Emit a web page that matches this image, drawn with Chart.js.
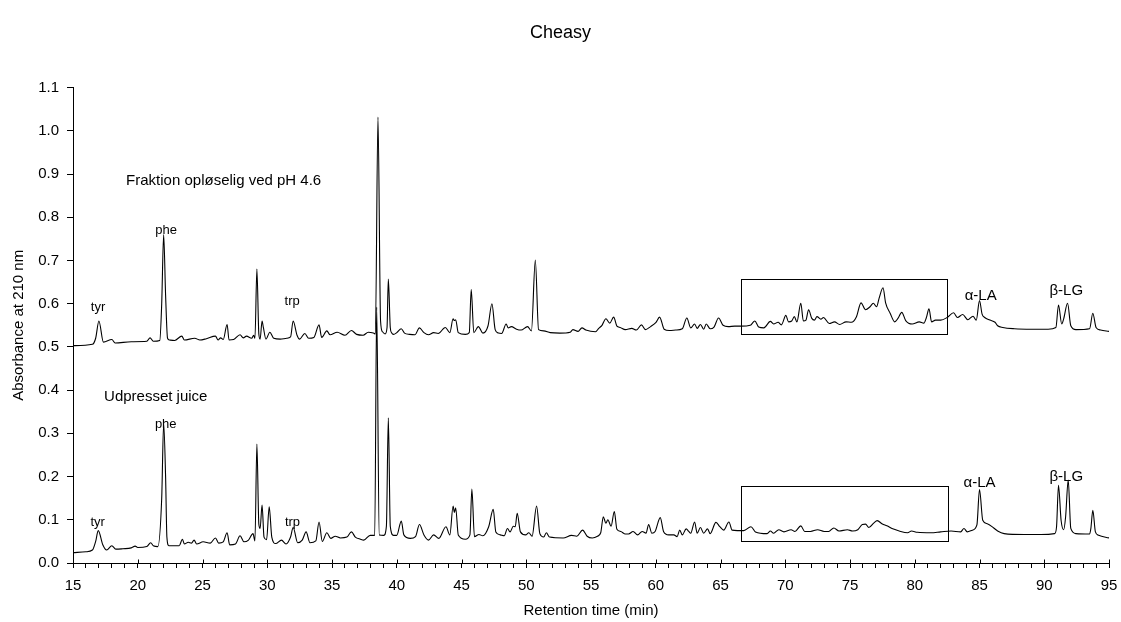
<!DOCTYPE html>
<html>
<head>
<meta charset="utf-8">
<script src="https://cdn.jsdelivr.net/npm/chart.js@4/dist/chart.umd.min.js"></script>
<style>
  body { margin: 0; background: #fff; }
  #wrap { width: 1121px; height: 622px; position: relative; }
</style>
</head>
<body>
<div id="wrap"><canvas id="chrom"></canvas></div>
<script>
// Fraktion opløselig ved pH 4.6 (øverste kurve)
const timeUpper = [15.0,16.5,16.75,17.0,17.35,18.0,18.25,19.5,20.7,20.95,21.2,21.7,21.85,22.0,22.15,22.3,22.45,22.85,23.4,23.6,24.4,24.8,25.3,26.0,26.2,26.4,26.6,26.9,27.05,27.4,27.9,28.15,28.4,28.8,28.95,29.05,29.2,29.35,29.45,29.6,29.7,29.9,30.2,30.5,31.0,31.5,31.8,32.0,32.3,32.5,32.9,33.2,33.6,34.0,34.2,34.6,34.85,35.4,36.0,36.5,36.9,37.4,37.8,38.2,38.35,38.55,38.75,38.9,39.1,39.25,39.35,39.5,39.6,39.75,40.0,40.35,40.6,41.0,41.4,41.75,42.1,42.45,42.85,43.2,43.75,44.1,44.35,44.45,44.55,44.75,45.3,45.6,45.75,45.95,46.3,46.65,47.05,47.35,47.6,47.85,48.1,48.45,48.6,48.85,49.25,49.6,50.1,50.4,50.7,50.95,51.35,51.85,52.6,53.4,53.6,54.0,54.3,54.6,55.35,55.6,55.85,56.15,56.45,56.75,57.0,57.25,57.65,58.15,58.5,58.9,59.2,59.6,60.0,60.3,60.65,61.05,61.55,62.05,62.4,62.7,63.0,63.2,63.45,63.7,63.9,64.2,64.5,64.85,65.2,65.6,66.1,66.6,67.3,67.65,67.95,68.35,68.85,69.1,69.45,69.7,70.05,70.25,70.5,70.7,70.9,71.2,71.4,71.6,71.8,72.05,72.25,72.45,72.75,72.95,73.4,73.8,74.2,74.7,75.1,75.5,75.85,76.2,76.55,76.8,77.05,77.25,77.55,77.75,78.1,78.45,78.7,79.0,79.3,79.8,80.35,80.7,80.9,81.1,81.3,81.6,82.0,82.5,83.0,83.3,83.7,84.1,84.5,84.75,85.0,85.2,85.4,85.8,86.2,86.4,86.8,87.7,89.0,90.3,90.9,91.1,91.35,91.5,91.8,92.05,92.45,93.5,93.75,94.0,94.35,95.0];
const absUpper = [0.503,0.506,0.52,0.56,0.511,0.517,0.509,0.512,0.513,0.521,0.513,0.515,0.6,0.76,0.62,0.52,0.516,0.515,0.525,0.516,0.52,0.516,0.519,0.525,0.516,0.521,0.517,0.552,0.516,0.517,0.528,0.521,0.525,0.52,0.527,0.52,0.68,0.53,0.518,0.56,0.545,0.518,0.534,0.52,0.518,0.52,0.523,0.56,0.527,0.518,0.531,0.52,0.522,0.551,0.522,0.537,0.528,0.534,0.527,0.538,0.529,0.527,0.534,0.532,0.53,1.032,0.56,0.535,0.53,0.545,0.657,0.545,0.533,0.529,0.533,0.542,0.532,0.529,0.528,0.544,0.533,0.528,0.533,0.531,0.545,0.533,0.565,0.561,0.563,0.533,0.529,0.533,0.633,0.533,0.547,0.532,0.549,0.6,0.54,0.532,0.531,0.553,0.544,0.547,0.541,0.539,0.547,0.537,0.701,0.54,0.537,0.533,0.532,0.534,0.54,0.536,0.544,0.539,0.535,0.543,0.55,0.565,0.555,0.569,0.548,0.545,0.54,0.543,0.539,0.551,0.54,0.547,0.556,0.569,0.541,0.538,0.539,0.542,0.567,0.544,0.553,0.543,0.552,0.541,0.553,0.542,0.546,0.567,0.55,0.547,0.548,0.548,0.55,0.56,0.546,0.544,0.559,0.553,0.557,0.551,0.573,0.558,0.56,0.57,0.558,0.601,0.56,0.562,0.586,0.566,0.562,0.57,0.564,0.568,0.554,0.558,0.552,0.558,0.557,0.57,0.602,0.586,0.593,0.601,0.593,0.613,0.637,0.602,0.578,0.558,0.566,0.58,0.561,0.553,0.558,0.555,0.568,0.588,0.558,0.562,0.562,0.568,0.579,0.568,0.575,0.563,0.571,0.562,0.607,0.576,0.568,0.562,0.557,0.549,0.545,0.542,0.541,0.541,0.545,0.597,0.553,0.565,0.601,0.549,0.540,0.542,0.578,0.545,0.539,0.536];

// Udpresset juice (nederste kurve)
const timeLower = [15.0,16.0,16.5,16.75,16.95,17.3,17.6,18.0,18.3,18.85,19.5,19.8,20.0,20.7,21.0,21.2,21.55,21.85,22.0,22.15,22.25,22.4,22.8,23.2,23.45,23.6,23.9,24.15,24.35,24.55,25.05,25.6,26.0,26.25,26.6,26.9,27.1,27.55,27.9,28.2,28.55,28.9,29.05,29.2,29.35,29.45,29.6,29.75,29.95,30.15,30.35,30.65,31.1,31.45,31.8,32.0,32.35,32.7,33.0,33.3,33.75,34.0,34.25,34.6,34.9,35.25,35.65,36.15,36.5,36.8,37.2,37.45,37.95,38.3,38.45,38.65,39.0,39.2,39.35,39.5,39.75,40.0,40.35,40.55,41.05,41.45,41.75,42.1,42.45,42.85,43.25,43.8,44.1,44.35,44.45,44.55,44.75,45.3,45.65,45.8,46.0,46.35,46.65,47.1,47.45,47.65,48.0,48.3,48.55,48.75,49.0,49.15,49.3,49.55,49.95,50.2,50.45,50.8,51.05,51.35,51.55,51.8,52.85,53.5,53.9,54.35,54.7,55.1,55.5,55.75,55.95,56.15,56.3,56.55,56.8,57.0,57.3,57.65,57.9,58.25,58.6,58.95,59.25,59.45,59.7,59.95,60.35,60.6,61.0,61.4,61.65,61.85,62.05,62.35,62.55,62.7,63.0,63.2,63.45,63.7,64.0,64.2,64.65,64.95,65.25,65.65,65.9,66.3,66.8,67.35,67.7,68.6,68.85,69.1,69.5,69.9,70.45,70.75,71.2,71.5,71.95,72.5,73.0,73.35,73.75,74.15,74.8,75.2,75.6,75.95,76.2,76.45,76.85,77.1,77.5,77.85,78.3,78.8,79.45,79.75,80.2,81.25,82.0,82.8,83.55,83.8,84.05,84.45,84.8,85.0,85.25,85.6,86.1,86.4,86.9,88.45,89.75,90.8,90.95,91.1,91.3,91.5,91.65,91.85,92.05,92.45,93.5,93.6,93.75,93.95,94.2,95.0];
const absLower = [0.024,0.026,0.03,0.05,0.075,0.042,0.03,0.04,0.032,0.033,0.035,0.039,0.036,0.038,0.047,0.04,0.038,0.15,0.323,0.2,0.06,0.04,0.04,0.04,0.055,0.044,0.048,0.046,0.053,0.044,0.049,0.046,0.058,0.046,0.049,0.07,0.042,0.044,0.063,0.049,0.053,0.068,0.051,0.275,0.09,0.08,0.134,0.06,0.054,0.13,0.06,0.045,0.053,0.044,0.06,0.082,0.047,0.053,0.072,0.047,0.051,0.095,0.05,0.07,0.057,0.062,0.058,0.06,0.072,0.06,0.055,0.053,0.064,0.064,0.592,0.065,0.064,0.085,0.336,0.085,0.064,0.064,0.097,0.065,0.057,0.061,0.089,0.065,0.053,0.065,0.057,0.084,0.065,0.132,0.117,0.128,0.065,0.055,0.065,0.171,0.061,0.066,0.063,0.084,0.124,0.072,0.065,0.063,0.08,0.072,0.085,0.084,0.115,0.072,0.065,0.07,0.062,0.132,0.068,0.06,0.07,0.06,0.058,0.064,0.062,0.076,0.062,0.058,0.062,0.07,0.107,0.092,0.1,0.085,0.119,0.078,0.073,0.067,0.067,0.073,0.065,0.073,0.069,0.089,0.069,0.073,0.105,0.073,0.065,0.065,0.061,0.076,0.065,0.079,0.073,0.069,0.095,0.069,0.082,0.069,0.079,0.068,0.094,0.084,0.076,0.095,0.076,0.075,0.075,0.084,0.072,0.068,0.074,0.069,0.077,0.072,0.077,0.073,0.086,0.073,0.073,0.077,0.073,0.073,0.081,0.074,0.077,0.074,0.077,0.089,0.09,0.082,0.093,0.098,0.09,0.086,0.079,0.074,0.07,0.074,0.071,0.07,0.072,0.074,0.072,0.08,0.072,0.076,0.088,0.17,0.099,0.091,0.081,0.074,0.068,0.066,0.066,0.068,0.084,0.18,0.099,0.077,0.107,0.192,0.08,0.068,0.067,0.08,0.122,0.072,0.064,0.058];

// Tekstmærker: tekst, retentionstid, absorbans, justering
const labelText  = ['Fraktion opløselig ved pH 4.6','tyr','phe','trp','α-LA','β-LG','Udpresset juice','tyr','phe','trp','α-LA','β-LG'];
const labelTime  = [19.1,16.93,22.19,31.92,85.09,91.7,17.4,16.9,22.16,31.95,85.0,91.7];
const labelAbs   = [0.885,0.592,0.769,0.605,0.617,0.629,0.384,0.094,0.32,0.095,0.185,0.2];
const labelAlign = ['left','center','center','center','center','center','left','center','center','center','center','center'];

// Rammer om området 66-82 min
const boxTimeFrom = [66.6, 66.6];
const boxTimeTo   = [82.5, 82.6];
const boxAbsFrom  = [0.531, 0.052];
const boxAbsTo    = [0.658, 0.178];

const FONT = 'Liberation Sans, Arial, sans-serif';

function punkter(tid, abs) {
    return tid.map((t, i) => ({ x: t, y: abs[i] }));
}

// Tegner tekster, rammer og de lange hovedstreger på x-aksen
const annotations = {
    id: 'annotations',
    afterDatasetsDraw(chart) {
        const ctx = chart.ctx;
        const xs = chart.scales.x;
        const ys = chart.scales.y;
        ctx.save();
        ctx.strokeStyle = '#000';
        ctx.lineWidth = 1;
        for (let i = 0; i < boxTimeFrom.length; i++) {
            const x1 = Math.round(xs.getPixelForValue(boxTimeFrom[i])) + 0.5;
            const x2 = Math.round(xs.getPixelForValue(boxTimeTo[i])) + 0.5;
            const y1 = Math.round(ys.getPixelForValue(boxAbsTo[i])) + 0.5;
            const y2 = Math.round(ys.getPixelForValue(boxAbsFrom[i])) + 0.5;
            ctx.strokeRect(x1, y1, x2 - x1, y2 - y1);
        }
        ctx.fillStyle = '#000';
        ctx.textBaseline = 'middle';
        labelText.forEach((txt, i) => {
            const big = labelAlign[i] === 'left';
            const greek = txt.length > 3 && !big;
            ctx.font = (big ? 15 : greek ? 15 : 13) + 'px ' + FONT;
            ctx.textAlign = labelAlign[i];
            ctx.fillText(txt, xs.getPixelForValue(labelTime[i]), ys.getPixelForValue(labelAbs[i]));
        });
        // hovedstreger krydser aksen
        const bund = Math.round(ys.bottom) + 0.5;
        for (let v = 15; v <= 95; v += 5) {
            const px = Math.round(xs.getPixelForValue(v)) + 0.5;
            ctx.beginPath();
            ctx.moveTo(px, bund - 4);
            ctx.lineTo(px, bund);
            ctx.stroke();
        }
        ctx.restore();
    }
};

const serie = {
    borderColor: '#000',
    borderWidth: 1.1,
    pointRadius: 0,
    showLine: true,
    cubicInterpolationMode: 'monotone',
    fill: false
};

new Chart(document.getElementById('chrom'), {
    type: 'scatter',
    data: {
        datasets: [
            Object.assign({ label: 'Fraktion opløselig ved pH 4.6', data: punkter(timeUpper, absUpper) }, serie),
            Object.assign({ label: 'Udpresset juice', data: punkter(timeLower, absLower) }, serie)
        ]
    },
    options: {
        responsive: true,
        maintainAspectRatio: false,
        animation: false,
        layout: { padding: 0 },
        plugins: {
            legend: { display: false },
            tooltip: { enabled: false },
            title: {
                display: true,
                text: 'Cheasy',
                color: '#000',
                font: { family: FONT, size: 18, weight: 'normal' },
                padding: { top: 22, bottom: 44 }
            }
        },
        scales: {
            x: {
                type: 'linear',
                min: 15,
                max: 95,
                afterFit(s) {
                    s.height = 59;
                    s.paddingLeft = 0;
                    s.paddingRight = 12;
                },
                border: { display: true, color: '#000', width: 1 },
                grid: { display: true, drawOnChartArea: false, drawTicks: true, tickLength: 5, color: '#000' },
                ticks: {
                    stepSize: 1,
                    autoSkip: false,
                    maxRotation: 0,
                    padding: 9,
                    color: '#000',
                    font: { family: FONT, size: 15 },
                    callback: v => (v % 5 === 0 ? String(v) : '')
                },
                title: {
                    display: true,
                    text: 'Retention time (min)',
                    color: '#000',
                    font: { family: FONT, size: 15 },
                    padding: { top: 0, bottom: 2 }
                }
            },
            y: {
                min: 0,
                max: 1.1,
                afterFit(s) { s.width = 73; },
                border: { display: true, color: '#000', width: 1 },
                grid: { display: true, drawOnChartArea: false, drawTicks: true, tickLength: 6, color: '#000' },
                ticks: {
                    stepSize: 0.1,
                    padding: 8,
                    color: '#000',
                    font: { family: FONT, size: 15 },
                    callback: v => Number(v).toFixed(1)
                },
                title: {
                    display: true,
                    text: 'Absorbance at 210 nm',
                    color: '#000',
                    font: { family: FONT, size: 15 },
                    padding: { top: 10, bottom: 0 }
                }
            }
        }
    },
    plugins: [annotations]
});
</script>
</body>
</html>
